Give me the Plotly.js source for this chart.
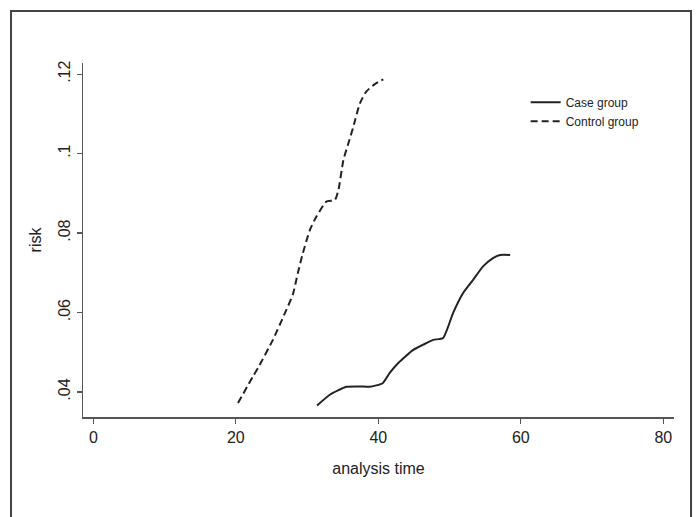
<!DOCTYPE html>
<html>
<head>
<meta charset="utf-8">
<script src="https://cdn.plot.ly/plotly-3.0.1.min.js"></script>
<style>html,body{margin:0;padding:0;background:#fff;}#chart{width:696px;height:517px;}</style>
</head>
<body>
<div id="chart"></div>
<script>
// Data
const controlTime = [20.3, 22.4, 23.1, 25.2, 26.9, 28.0, 28.7, 29.4, 30.4, 31.3, 32.7, 33.9, 34.4, 35.1, 35.8, 36.5, 37.4, 38.3, 39.5, 40.7];
const controlRisk = [0.0372, 0.0439, 0.0460, 0.0531, 0.0599, 0.0645, 0.0699, 0.0749, 0.0808, 0.0841, 0.0879, 0.0883, 0.0908, 0.0984, 0.1026, 0.1068, 0.1126, 0.1156, 0.1175, 0.1187];

const caseTime = [31.4, 33.2, 35.5, 37.4, 38.8, 40.6, 41.6, 42.8, 44.9, 46.3, 47.7, 49.1, 50.5, 51.9, 53.3, 54.7, 56.1, 57.1, 58.5];
const caseRisk = [0.0366, 0.0393, 0.0413, 0.0414, 0.0413, 0.0422, 0.0448, 0.0473, 0.0506, 0.0519, 0.0531, 0.0536, 0.0599, 0.0649, 0.0682, 0.0716, 0.0737, 0.0745, 0.0745];

const xTickVals = [0, 20, 40, 60, 80];
const xTickText = ['0', '20', '40', '60', '80'];
const yTickVals = [0.04, 0.06, 0.08, 0.10, 0.12];
const yTickText = ['.04', '.06', '.08', '.1', '.12'];

const traces = [
  {x: caseTime, y: caseRisk, name: 'Case group', type: 'scatter', mode: 'lines',
   line: {color: '#222', width: 2, shape: 'spline', smoothing: 0.5}},
  {x: controlTime, y: controlRisk, name: 'Control group', type: 'scatter', mode: 'lines',
   line: {color: '#222', width: 2, dash: '7px,4px', shape: 'spline', smoothing: 0.5}}
];

const axisCommon = {
  showline: true, linecolor: '#555', linewidth: 1.5,
  ticks: 'outside', ticklen: 5, tickcolor: '#555', tickwidth: 1.2,
  showgrid: false, zeroline: false,
  tickfont: {family: 'Liberation Sans, Arial, sans-serif', size: 16, color: '#222'}
};

const layout = {
  width: 696, height: 517,
  margin: {l: 83, r: 22, t: 63, b: 100},
  paper_bgcolor: '#fff', plot_bgcolor: '#fff',
  font: {family: 'Liberation Sans, Arial, sans-serif', color: '#222'},
  showlegend: true,
  legend: {x: 0.749, y: 0.93, xanchor: 'left', yanchor: 'top', bgcolor: 'rgba(0,0,0,0)',
           font: {size: 12, color: '#222'}, tracegroupgap: 0, itemwidth: 30},
  xaxis: Object.assign({}, axisCommon, {
    range: [-1.45, 81.5], tickvals: xTickVals, ticktext: xTickText,
    title: {text: 'analysis time', font: {size: 16, color: '#222'}, standoff: 18}
  }),
  yaxis: Object.assign({}, axisCommon, {
    range: [0.0337, 0.1228], tickvals: yTickVals, ticktext: yTickText, tickangle: -90,
    title: {text: 'risk', font: {size: 16, color: '#222'}, standoff: 10}
  }),
  shapes: [
    {type: 'rect', xref: 'paper', yref: 'paper', x0: -0.1218, x1: 1.0288, y0: -0.3, y1: 1.1469,
     line: {color: '#444', width: 2}, fillcolor: 'rgba(0,0,0,0)', layer: 'below'}
  ]
};

Plotly.newPlot('chart', traces, layout, {displayModeBar: false, staticPlot: true});
</script>
</body>
</html>
